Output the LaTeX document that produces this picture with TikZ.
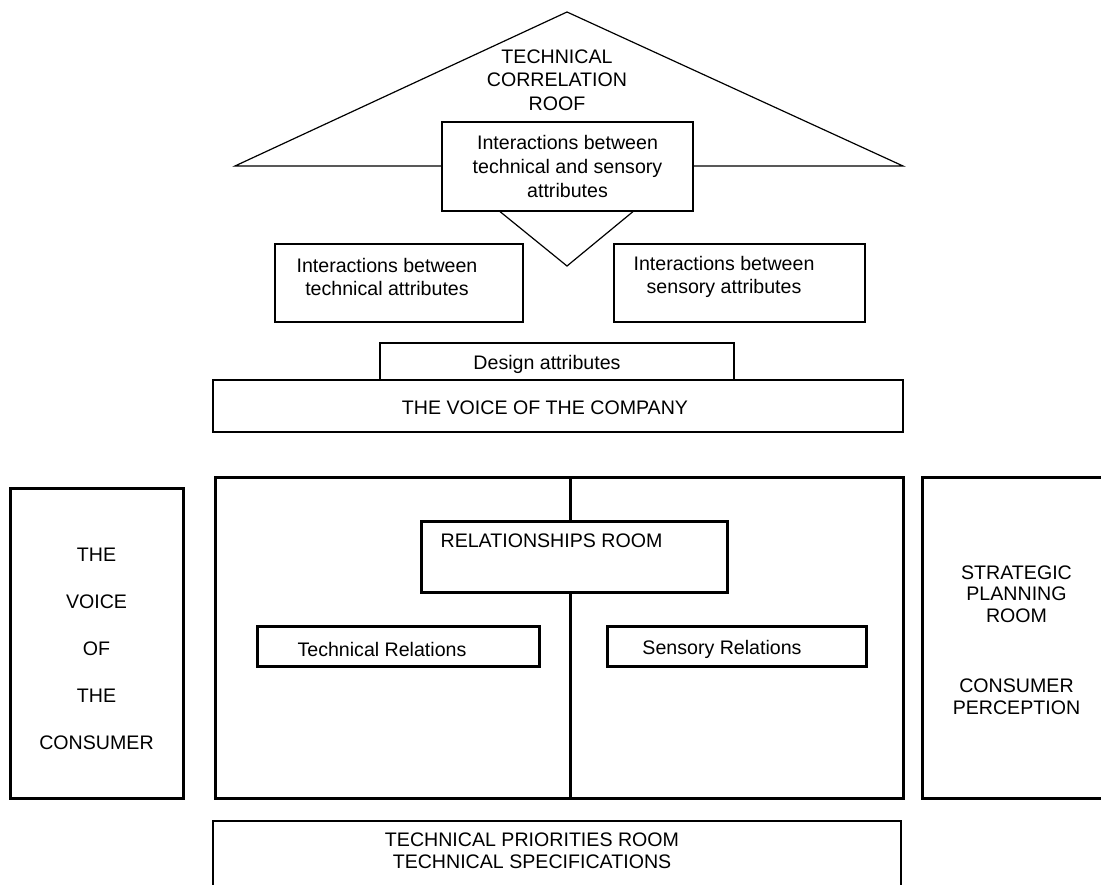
\documentclass[tikz,border=0pt]{standalone}
\usepackage{fontspec}
\setmainfont{Liberation Sans}

\tikzset{every picture/.style={line width=1.2pt}}
\tikzset{
  thinbox/.style={draw, line width=1.2pt, inner sep=0pt, fill=white},
  roombox/.style={draw, line width=3pt, inner sep=0pt, fill=white},
  roomline/.style={line width=3pt},
  txt/.style={align=center, inner sep=0pt, font=\fontsize{19.6}{23.5}\selectfont},
}

\begin{document}
\begin{tikzpicture}[x=1pt,y=1pt,yscale=-1,xscale=1]
\useasboundingbox (0,0) rectangle (1101,885);
\clip (0,0) rectangle (1101,885);

%Roof
\coordinate (apex) at (567,12);
\coordinate (roofL) at (235,166);
\coordinate (roofR) at (903,166);
\draw (roofL) -- (apex) -- (roofR) -- cycle ;
\node[txt] (roof) at (557,80) {TECHNICAL\\CORRELATION\\ROOF};

%Shape: Rectangle, interactions in the middle
\node[thinbox, minimum width=251pt, minimum height=89pt] (mixed) at (567.5,166.5) {};
\node[txt, font=\fontsize{19.6}{24}\selectfont] (mixedtxt) at (mixed) {Interactions between\\technical and sensory\\attributes};
\coordinate (vtip) at (567,266);
\draw ([xshift=-67.5pt]mixed.south) -- (vtip) -- ([xshift=65.5pt]mixed.south) ;

%Shape: Rectangle, left and right interactions
\node[thinbox, minimum width=248pt, minimum height=78pt] (techint) at (399,283) {};
\node[txt] (techinttxt) at (387,277) {Interactions between\\technical attributes};
\node[thinbox, minimum width=251pt, minimum height=78pt] (sensint) at (739.5,283) {};
\node[txt] (sensinttxt) at (724,277) {Interactions between\\sensory attributes};

%Shape: Rectangle, design attributes and voice of the company
\node[thinbox, minimum width=354pt, minimum height=37pt] (design) at (557,361.5) {};
\node[txt] (designtxt) at (547,364) {Design attributes};
\node[thinbox, minimum width=690pt, minimum height=52pt] (company) at (558,406) {};
\node[txt] (companytxt) at (545,408) {THE VOICE OF THE COMPANY};

%Shape: Rectangle, voice of the consumer
\node[roombox, minimum width=173pt, minimum height=310pt] (consumer) at (96.5,643) {};
\node[txt, font=\fontsize{19.6}{47}\selectfont] (consumertxt) at (96.5,649) {THE\\VOICE\\OF\\THE\\CONSUMER};

%Shape: Rectangle, relationships
\node[roombox, minimum width=688pt, minimum height=321pt] (main) at (559,637.5) {};
\coordinate (divtop) at (570,477);
\draw[roomline] (divtop) -- (divtop |- main.south) ;
\node[roombox, minimum width=306pt, minimum height=71pt] (rr) at (574,556.5) {};
\node[txt, anchor=west] (rrtxt) at (440,541) {RELATIONSHIPS ROOM};
\node[roombox, minimum width=282pt, minimum height=40pt] (techrel) at (398,646) {};
\node[txt] (techreltxt) at (382,649) {Technical Relations};
\node[roombox, minimum width=259pt, minimum height=40pt] (sensrel) at (736.5,646) {};
\node[txt] (sensreltxt) at (722,649) {Sensory Relations};

%Shape: Rectangle, strategic planning
\node[roombox, minimum width=188pt, minimum height=321pt] (strategic) at (1016,637.5) {};
\node[txt, font=\fontsize{19.6}{21.5}\selectfont] (strategictxt) at (1016.5,594) {STRATEGIC\\PLANNING\\ROOM};
\node[txt, font=\fontsize{19.6}{21.5}\selectfont] (perceptiontxt) at (1016.5,697) {CONSUMER\\PERCEPTION};

%Shape: Rectangle, technical priorities
\node[thinbox, minimum width=688pt, minimum height=90pt] (priorities) at (557,866) {};
\node[txt, font=\fontsize{19.6}{22}\selectfont] (prioritiestxt) at (532,851) {TECHNICAL PRIORITIES ROOM\\TECHNICAL SPECIFICATIONS};

\end{tikzpicture}
\end{document}
